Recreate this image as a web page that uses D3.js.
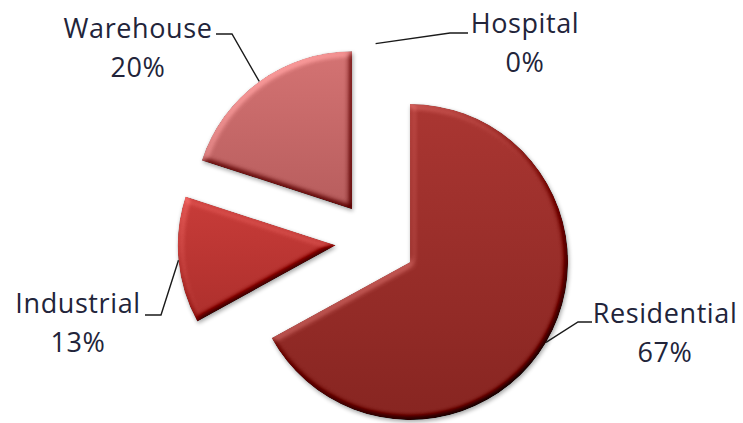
<!DOCTYPE html>
<html>
<head>
<meta charset="utf-8">
<script src="https://cdn.jsdelivr.net/npm/d3@7"></script>
<style>
  html, body { margin: 0; padding: 0; background: #ffffff; }
  svg { display: block; }
</style>
</head>
<body>
<script>
// Building-type shares
const categories = ["Residential", "Industrial", "Warehouse", "Hospital"];
const values = [67, 13, 20, 0];

const width = 743, height = 423;
const cx = 375.6, cy = 241.6;
const radius = 158;
const explode = 40;

// Slice shading: top and bottom colour of each wedge
const sliceColors = {
  Residential: ["#aa3632", "#872521"],
  Industrial: ["#c83c39", "#ad2f2c"],
  Warehouse: ["#d47373", "#b75d5d"],
  Hospital: ["#c0504d", "#a03c39"]
};

// Label placement: centre x, name baseline, hook point where the leader meets the text
const labelLayout = {
  Residential: { x: 665, y: 323, hook: [592, 322], elbow: -14 },
  Industrial: { x: 78, y: 313, hook: [145, 315], elbow: 16 },
  Warehouse: { x: 138, y: 38, hook: [216, 34], elbow: 16 },
  Hospital: { x: 525, y: 33, hook: [468, 33], elbow: -18 }
};

const data = categories.map((c, i) => ({ name: c, value: values[i] }));
const total = d3.sum(values);

const svg = d3.select("body").append("svg")
  .attr("width", width)
  .attr("height", height);

const defs = svg.append("defs");

// Bevel with soft outer shadow
const filter = defs.append("filter")
  .attr("id", "bevel")
  .attr("x", "-20%").attr("y", "-20%")
  .attr("width", "140%").attr("height", "140%")
  .attr("color-interpolation-filters", "sRGB");
filter.append("feGaussianBlur")
  .attr("in", "SourceAlpha").attr("stdDeviation", 3).attr("result", "blur");
const light = filter.append("feDiffuseLighting")
  .attr("in", "blur").attr("surfaceScale", 4).attr("diffuseConstant", 1)
  .attr("lighting-color", "#ffffff").attr("result", "diff");
light.append("feDistantLight").attr("azimuth", 235).attr("elevation", 50);
filter.append("feComposite")
  .attr("in", "SourceGraphic").attr("in2", "diff")
  .attr("operator", "arithmetic")
  .attr("k1", 0).attr("k2", 1).attr("k3", 0.65).attr("k4", -0.65 * Math.sin(50 * Math.PI / 180))
  .attr("result", "lit");
filter.append("feComposite")
  .attr("in", "lit").attr("in2", "SourceAlpha").attr("operator", "in").attr("result", "litIn");
filter.append("feGaussianBlur")
  .attr("in", "SourceAlpha").attr("stdDeviation", 2.2).attr("result", "sh");
filter.append("feOffset").attr("in", "sh").attr("dx", 1).attr("dy", 2).attr("result", "sho");
const ct = filter.append("feComponentTransfer").attr("in", "sho").attr("result", "shf");
ct.append("feFuncA").attr("type", "linear").attr("slope", 0.35);
const merge = filter.append("feMerge");
merge.append("feMergeNode").attr("in", "shf");
merge.append("feMergeNode").attr("in", "litIn");

categories.forEach((c, i) => {
  const g = defs.append("linearGradient")
    .attr("id", "grad" + i)
    .attr("x1", 0).attr("y1", 0).attr("x2", 0).attr("y2", 1);
  g.append("stop").attr("offset", "0%").attr("stop-color", sliceColors[c][0]);
  g.append("stop").attr("offset", "100%").attr("stop-color", sliceColors[c][1]);
});

const pie = d3.pie()
  .sort(null)
  .value(d => d.value)
  .startAngle(0)
  .endAngle(2 * Math.PI);

const arc = d3.arc().innerRadius(0).outerRadius(radius);

const arcs = pie(data);

function offsetOf(d) {
  const mid = (d.startAngle + d.endAngle) / 2;
  return [Math.sin(mid) * explode, -Math.cos(mid) * explode];
}

const chart = svg.append("g").attr("transform", `translate(${cx},${cy})`);

chart.selectAll("path.slice")
  .data(arcs.filter(d => d.value > 0))
  .join("path")
  .attr("class", "slice")
  .attr("transform", d => { const o = offsetOf(d); return `translate(${o[0]},${o[1]})`; })
  .attr("d", arc)
  .attr("fill", d => "url(#grad" + d.index + ")")
  .attr("filter", "url(#bevel)");

// Leader lines from each wedge's outer edge to its label
const line = d3.line();
svg.append("g")
  .selectAll("path.leader")
  .data(arcs)
  .join("path")
  .attr("class", "leader")
  .attr("fill", "none")
  .attr("stroke", "#1a1a1a")
  .attr("stroke-width", 1.4)
  .attr("d", d => {
    const mid = (d.startAngle + d.endAngle) / 2;
    const o = offsetOf(d);
    const edge = [cx + o[0] + Math.sin(mid) * radius, cy + o[1] - Math.cos(mid) * radius];
    const L = labelLayout[d.data.name];
    const elbow = [L.hook[0] + L.elbow, L.hook[1]];
    return line([L.hook, elbow, edge]);
  });

// Category name and percentage
const labels = svg.append("g")
  .attr("font-family", "'Open Sans', sans-serif")
  .attr("font-size", 27)
  .attr("letter-spacing", 0.6)
  .attr("fill", "#22243a")
  .attr("text-anchor", "middle");

arcs.forEach(d => {
  const L = labelLayout[d.data.name];
  const t = labels.append("text").attr("x", L.x).attr("y", L.y);
  t.append("tspan").attr("x", L.x).attr("y", L.y).text(d.data.name);
  t.append("tspan").attr("x", L.x).attr("y", L.y + 39)
    .text(Math.round(d.data.value / total * 100) + "%");
});
</script>
</body>
</html>
